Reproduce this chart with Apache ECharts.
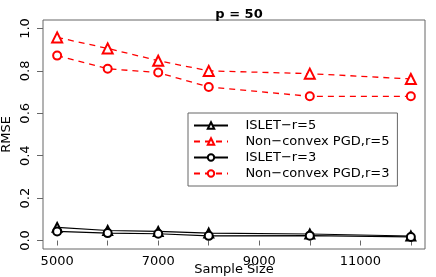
<!DOCTYPE html>
<html>
<head>
<meta charset="utf-8">
<script src="https://cdn.jsdelivr.net/npm/echarts@6/dist/echarts.min.js"></script>
<style>
html,body{margin:0;padding:0;background:#fff}
#main{width:436px;height:277px}
</style>
</head>
<body>
<div id="main"></div>
<script>
// data
var sampleSizes = [5000, 6000, 7000, 8000, 10000, 12000]
var isletR5 = [0.062, 0.047, 0.043, 0.035, 0.031, 0.021]
var pgdR5 = [0.958, 0.906, 0.848, 0.800, 0.787, 0.762]
var isletR3 = [0.043, 0.035, 0.032, 0.022, 0.023, 0.017]
var pgdR3 = [0.872, 0.810, 0.792, 0.724, 0.680, 0.680]

var xLabels = [5000, 7000, 9000, 11000]
var xTicks = [5000, 6000, 7000, 8000, 9000, 10000, 11000, 12000]
var yTicks = [0, 0.2, 0.4, 0.6, 0.8, 1.0]

var names = ['ISLET\u2212r=5', 'Non\u2212convex PGD,r=5', 'ISLET\u2212r=3', 'Non\u2212convex PGD,r=3']

var font = 'DejaVu Sans'

function pairs(ys){
	var out = []
	for (var i = 0; i < sampleSizes.length; i++) {
		out.push([sampleSizes[i], ys[i]])
	}
	return out
}

function mk(name, ys, color, dashed, sym, size){
	return {
		name: name,
		type: 'line',
		data: pairs(ys),
		symbol: sym,
		symbolSize: size,
		color: color,
		lineStyle: { color: color, width: dashed ? 1.3 : 1.1, type: dashed ? [6, 5] : 'solid' },
		itemStyle: { color: color, borderWidth: 1.2 },
		z: dashed ? 3 : 2
	}
}

var chart = echarts.init(document.getElementById('main'))

chart.setOption({
	animation: false,
	title: {
		text: 'p = 50',
		left: 234,
		textAlign: 'center',
		top: 3,
		textStyle: { fontFamily: font, fontSize: 13, fontWeight: 'bold', color: '#000' }
	},
	grid: {
		left: 43, right: 11, top: 20, bottom: 28,
		outerBoundsMode: 'none',
		containLabel: false,
		show: true, borderColor: '#666', borderWidth: 1
	},
	legend: {
		orient: 'vertical',
		left: 188,
		top: 113,
		data: names,
		itemWidth: 34,
		itemHeight: 8,
		itemGap: 3,
		padding: [6, 8, 6, 5],
		borderColor: '#666',
		borderWidth: 1,
		backgroundColor: '#fff',
		formatter: function(n){ return '   ' + n },
		textStyle: { fontFamily: font, fontSize: 13, color: '#000', lineHeight: 12 }
	},
	xAxis: {
		type: 'value',
		min: 4720,
		max: 12280,
		name: 'Sample Size',
		nameLocation: 'middle',
		nameGap: 14,
		nameMoveOverlap: false,
		nameTextStyle: { fontFamily: font, fontSize: 13, color: '#000', verticalAlign: 'top' },
		axisLine: { show: false },
		axisTick: { show: true, length: 5, lineStyle: { color: '#666' }, customValues: xTicks },
		axisLabel: {
			fontFamily: font, fontSize: 13, color: '#000', margin: 6,
			customValues: xLabels,
			formatter: function(v){ return String(v) }
		},
		splitLine: { show: false }
	},
	yAxis: {
		type: 'value',
		min: -0.04,
		max: 1.04,
		name: 'RMSE',
		nameLocation: 'middle',
		nameGap: 30,
		nameMoveOverlap: false,
		nameTextStyle: { fontFamily: font, fontSize: 13, color: '#000' },
		axisLine: { show: false },
		axisTick: { show: true, length: 6, lineStyle: { color: '#666' }, customValues: yTicks },
		axisLabel: {
			fontFamily: font, fontSize: 13, color: '#000', margin: 11, rotate: 90,
			align: 'center', verticalAlign: 'bottom',
			customValues: yTicks,
			formatter: function(v){ return v.toFixed(1) }
		},
		splitLine: { show: false }
	},
	series: [
		mk(names[0], isletR5, '#000000', false, 'emptyTriangle', 9),
		mk(names[1], pgdR5, '#ff0000', true, 'emptyTriangle', 10),
		mk(names[2], isletR3, '#000000', false, 'emptyCircle', 8),
		mk(names[3], pgdR3, '#ff0000', true, 'emptyCircle', 8)
	]
})
</script>
</body>
</html>
